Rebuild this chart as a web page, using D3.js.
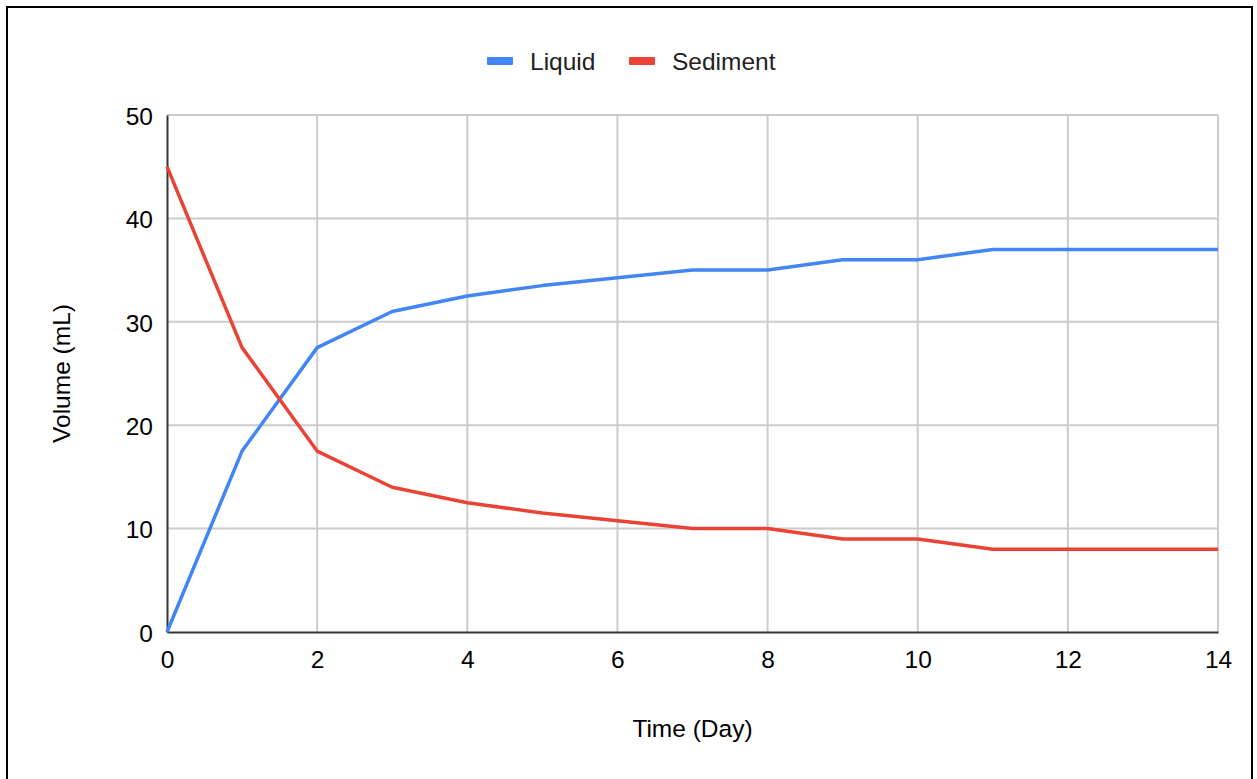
<!DOCTYPE html>
<html>
<head>
<meta charset="utf-8">
<script src="https://cdn.jsdelivr.net/npm/d3@7"></script>
<style>
  body { margin: 0; background: #fff; }
  svg { display: block; font-family: "Liberation Sans", Arial, sans-serif; }
</style>
</head>
<body>
<div id="chart"></div>
<script>
// data
const days = [0, 1, 2, 3, 4, 5, 6, 7, 8, 9, 10, 11, 12, 13, 14];
const liquid = [0, 17.5, 27.5, 31, 32.5, 33.5, 34.25, 35, 35, 36, 36, 37, 37, 37, 37];
const sediment = [45, 27.5, 17.5, 14, 12.5, 11.5, 10.75, 10, 10, 9, 9, 8, 8, 8, 8];
const xTicks = [0, 2, 4, 6, 8, 10, 12, 14];
const yTicks = [0, 10, 20, 30, 40, 50];
const seriesNames = ["Liquid", "Sediment"];
const seriesColors = ["#4285f4", "#ea4335"];

const W = 1257, H = 779;
const fontSize = 24.5;
const margin = {top: 115, right: 39, bottom: 147, left: 167},
    width = W - margin.left - margin.right,
    height = H - margin.top - margin.bottom;

const svg = d3.select("#chart")
  .append("svg")
    .attr("width", W)
    .attr("height", H);

// frame around the picture
svg.append("path")
  .attr("d", `M7,${H + 5} V7 H1252 V${H + 5}`)
  .attr("fill", "none")
  .attr("stroke", "#000")
  .attr("stroke-width", 2);

const g = svg.append("g")
  .attr("transform", `translate(${margin.left}, ${margin.top})`);

const x = d3.scaleLinear()
  .domain([0, 14])
  .range([0, width]);

const y = d3.scaleLinear()
  .domain([0, 50])
  .range([height, 0]);

// gridlines
g.append("g")
  .selectAll("line")
  .data(xTicks.slice(1))
  .join("line")
    .attr("x1", d => x(d)).attr("x2", d => x(d))
    .attr("y1", 0).attr("y2", height)
    .attr("stroke", "#cccccc")
    .attr("stroke-width", 2);

g.append("g")
  .selectAll("line")
  .data(yTicks.slice(1))
  .join("line")
    .attr("x1", 0).attr("x2", width)
    .attr("y1", d => y(d)).attr("y2", d => y(d))
    .attr("stroke", "#cccccc")
    .attr("stroke-width", 2);

// axes
const xAxis = g.append("g")
  .attr("transform", `translate(0, ${height})`)
  .call(d3.axisBottom(x).tickValues(xTicks).tickSize(0).tickPadding(19));
xAxis.select(".domain").attr("stroke", "#333").attr("stroke-width", 2);
xAxis.selectAll("text").attr("font-size", fontSize).attr("fill", "#000").attr("font-family", "Liberation Sans, Arial, sans-serif");

const yAxis = g.append("g")
  .call(d3.axisLeft(y).tickValues(yTicks).tickSize(0).tickPadding(14));
yAxis.select(".domain").attr("stroke", "#333").attr("stroke-width", 2);
yAxis.selectAll("text").attr("font-size", fontSize).attr("fill", "#000").attr("dy", "0.38em").attr("font-family", "Liberation Sans, Arial, sans-serif");

// lines
const line = d3.line()
  .x((d, i) => x(days[i]))
  .y(d => y(d));

g.selectAll(".series")
  .data([liquid, sediment])
  .join("path")
    .attr("class", "series")
    .attr("fill", "none")
    .attr("stroke", (d, i) => seriesColors[i])
    .attr("stroke-width", 3.5)
    .attr("stroke-linejoin", "round")
    .attr("d", line);

// axis titles
svg.append("text")
  .attr("x", margin.left + width / 2)
  .attr("y", 737)
  .attr("text-anchor", "middle")
  .attr("font-size", fontSize)
  .attr("fill", "#000")
  .text("Time (Day)");

svg.append("text")
  .attr("transform", `translate(70, ${margin.top + height / 2}) rotate(-90)`)
  .attr("text-anchor", "middle")
  .attr("font-size", fontSize)
  .attr("fill", "#000")
  .text("Volume (mL)");

// legend
const legendX = [487, 629];
const legend = svg.append("g")
  .selectAll("g")
  .data(seriesNames)
  .join("g")
    .attr("transform", (d, i) => `translate(${legendX[i]}, 61)`);

legend.append("rect")
  .attr("x", 0).attr("y", -4)
  .attr("width", 26).attr("height", 8)
  .attr("rx", 1)
  .attr("fill", (d, i) => seriesColors[i]);

legend.append("text")
  .attr("x", 43)
  .attr("dy", "0.36em")
  .attr("font-size", fontSize)
  .attr("fill", "#222")
  .text(d => d);
</script>
</body>
</html>
